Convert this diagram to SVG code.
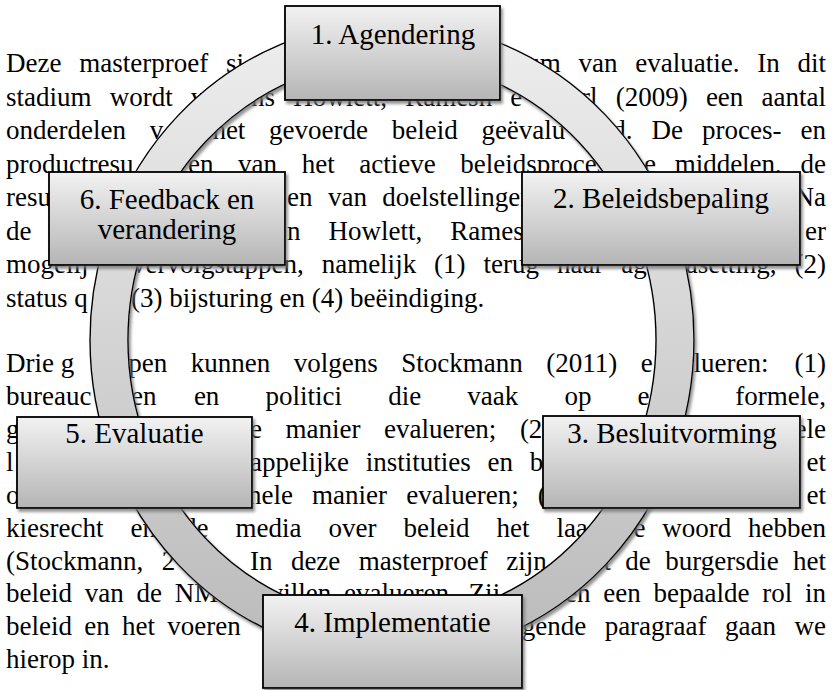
<svg xmlns="http://www.w3.org/2000/svg" width="833" height="690" viewBox="0 0 833 690">
<style>
.t{font-family:"Liberation Serif","Times New Roman",serif;font-size:27px;fill:#000}
.e{text-anchor:end}
.lbl{font-family:"Liberation Serif","Times New Roman",serif;font-size:29px;fill:#000;text-anchor:middle}
.box{fill:url(#bg);stroke:#000;stroke-width:1.8;filter:url(#sh)}
.ring{fill:url(#rg);fill-rule:evenodd;stroke:#000;stroke-width:1.4;filter:url(#sh)}
</style>
<defs>
<linearGradient id="bg" x1="0" y1="0" x2="0" y2="1"><stop offset="0" stop-color="#f2f2f2"/><stop offset="1" stop-color="#b5b5b5"/></linearGradient>
<linearGradient id="rg" gradientUnits="userSpaceOnUse" x1="0" y1="22" x2="0" y2="658"><stop offset="0" stop-color="#eeeeee"/><stop offset="1" stop-color="#bababa"/></linearGradient>
<filter id="sh" x="-10%" y="-10%" width="130%" height="130%"><feDropShadow dx="2" dy="3" stdDeviation="1.5" flood-color="#777" flood-opacity="0.8"/></filter>
</defs>
<rect width="833" height="690" fill="#fff"/>
<g id="body-text" class="t">
<text x="6" y="72" word-spacing="11">Deze masterproef si</text>
<text class="e" x="826" y="72" word-spacing="11">um van evaluatie. In dit</text>
<text x="6" y="105.5" word-spacing="11.45">stadium wordt v</text>
<text x="251" y="105.5" word-spacing="11.45">ns Howlett, Ramesh e</text>
<text class="e" x="826" y="105.5" word-spacing="11.45">rl (2009) een aantal</text>
<text x="6" y="139" word-spacing="16.95">onderdelen v</text>
<text x="212.4" y="139" word-spacing="16.95">het gevoerde beleid geëvalu</text>
<text class="e" x="826" y="139" word-spacing="12.3">d. De proces- en</text>
<text x="6" y="172.5">productresu</text>
<text x="188" y="172.5" word-spacing="17.85">en van het actieve beleidsproces</text>
<text class="e" x="826" y="172.5" word-spacing="11.9">e middelen, de</text>
<text x="6" y="206">resu</text>
<text x="287" y="206" word-spacing="8.7">en van doelstellingen</text>
<text class="e" x="826" y="206">Na</text>
<text x="6" y="239.5">de</text>
<text x="287" y="239.5" word-spacing="21.3">n Howlett, Ramesh</text>
<text class="e" x="826" y="239.5">er</text>
<text x="6" y="273">mogelij</text>
<text x="132" y="273" word-spacing="11.2">vervolgstappen, namelijk (1) terug naar ag</text>
<text class="e" x="826" y="273" word-spacing="11.2">asetting, (2)</text>
<text x="6" y="306.5">status q</text>
<text x="131" y="306.5">(3) bijsturing en (4) beëindiging.</text>
<text x="6" y="372">Drie g</text>
<text x="128.3" y="372" word-spacing="16.75">pen kunnen volgens Stockmann (2011) e</text>
<text class="e" x="826" y="372" word-spacing="19.25">lueren: (1)</text>
<text x="6" y="405">bureauc</text>
<text x="131" y="405">en</text>
<text x="193.9" y="405" word-spacing="39.4">en politici die vaak op e</text>
<text class="e" x="826" y="405">formele,</text>
<text x="6" y="438">g</text>
<text x="250" y="438" word-spacing="16.75">e manier evalueren; (2</text>
<text class="e" x="826" y="438">ele</text>
<text x="6" y="471">l</text>
<text x="250" y="471" word-spacing="10">appelijke instituties en b</text>
<text class="e" x="826" y="471">et</text>
<text x="6" y="504">o</text>
<text x="248" y="504" word-spacing="12.4">nele manier evalueren; (3</text>
<text class="e" x="826" y="504">et</text>
<text x="6" y="537" word-spacing="20.25">kiesrecht en</text>
<text x="183" y="537" word-spacing="20.25">de media over beleid het laa</text>
<text class="e" x="826" y="537" word-spacing="10">e woord hebben</text>
<text x="6" y="570" word-spacing="11.75">(Stockmann, 2</text>
<text x="249.9" y="570" word-spacing="11.75">In deze masterproef zijn</text>
<text class="e" x="826" y="570" word-spacing="7.6">t de burgersdie het</text>
<text x="6" y="602" word-spacing="6">beleid van de NMB</text>
<text x="263.8" y="602" word-spacing="6">willen evalueren. Zij</text>
<text class="e" x="826" y="602" word-spacing="6">ben een bepaalde rol in</text>
<text x="6" y="635" word-spacing="5.5">beleid en het voeren</text>
<text class="e" x="826" y="635" word-spacing="11.75">gende paragraaf gaan we</text>
<text x="6" y="668">hierop in.</text>
</g>
<g id="connectors">
<path class="ring" d="M90 340A302 318 0 1 0 694 340A302 318 0 1 0 90 340ZM128 340A264 280 0 1 0 656 340A264 280 0 1 0 128 340Z"/>
</g>
<g id="node-1"><rect class="box" x="285" y="6" width="215" height="94"/><text class="lbl" x="393" y="44">1. Agendering</text></g>
<g id="node-2"><rect class="box" x="522" y="172" width="278" height="93"/><text class="lbl" x="661" y="208">2. Beleidsbepaling</text></g>
<g id="node-3"><rect class="box" x="543" y="416" width="257" height="92"/><text class="lbl" x="672" y="443">3. Besluitvorming</text></g>
<g id="node-4"><rect class="box" x="263" y="595" width="259" height="93"/><text class="lbl" x="392.5" y="632">4. Implementatie</text></g>
<g id="node-5"><rect class="box" x="17" y="417" width="235" height="91"/><text class="lbl" x="134.5" y="443">5. Evaluatie</text></g>
<g id="node-6"><rect class="box" x="49" y="172" width="236" height="93"/><text class="lbl" x="167" y="209">6. Feedback en</text><text class="lbl" x="167" y="239">verandering</text></g>
</svg>
